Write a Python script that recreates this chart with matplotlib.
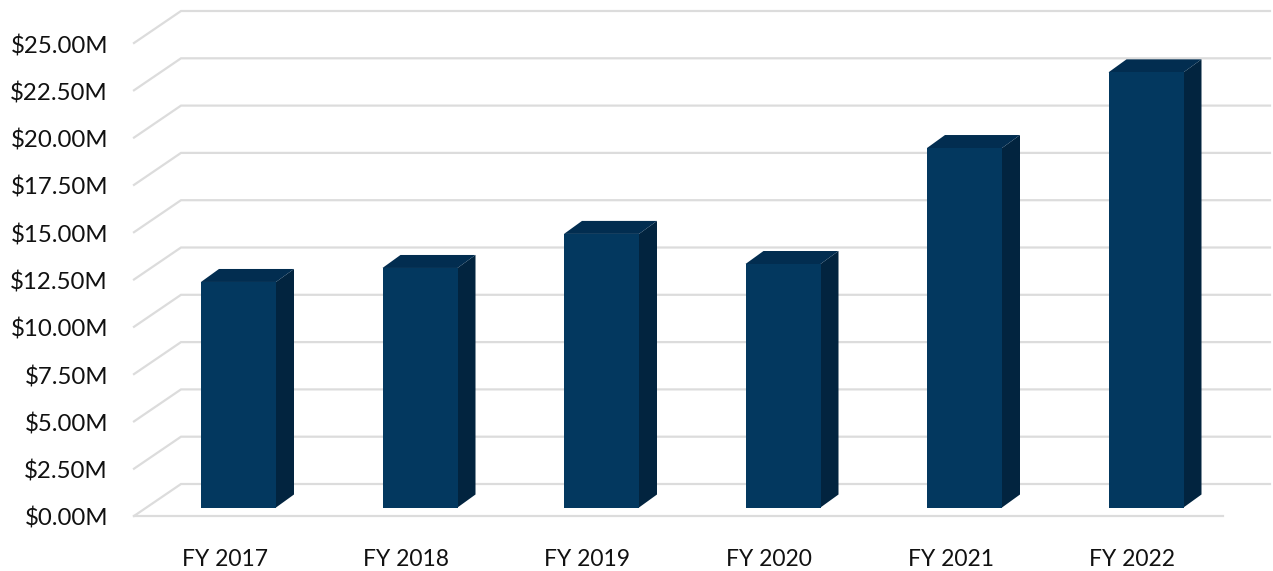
import matplotlib
matplotlib.use("Agg")
import matplotlib.pyplot as plt
from matplotlib.patches import Polygon

plt.rcParams['font.family'] = ['Lato', 'DejaVu Sans']

# Data, $M
years = ["FY 2017", "FY 2018", "FY 2019", "FY 2020", "FY 2021", "FY 2022"]
values = [11.92, 12.66, 14.46, 12.87, 19.0, 23.0]
ticks = [0, 2.5, 5, 7.5, 10, 12.5, 15, 17.5, 20, 22.5, 25]

# Pixel scale of the picture
W, H = 1273, 571
px_x = 181.5      # px per category
px_y = 18.92      # px per $M
x0_px = 238.5     # centre of first bar
y0_px = 516       # front zero line

fig = plt.figure(figsize=(W / 100, H / 100), dpi=100)
ax = fig.add_axes([0, 0, 1, 1])
ax.set_xlim(-x0_px / px_x, (W - x0_px) / px_x)
ax.set_ylim(-(H - y0_px) / px_y, y0_px / px_y)
ax.axis("off")

# Fake 3D offsets in data units
wall_dx, wall_dy = 47 / px_x, 32 / px_y
bar_dx, bar_dy = 18 / px_x, 13 / px_y
bar_w = 75 / px_x
bar_lift = 8.5 / px_y
left = (134 - x0_px) / px_x
right = (1223 - x0_px) / px_x

# Gridlines: left wall slant + back wall
grid = "#dcdcdc"
for t in ticks:
    ax.plot([left, left + wall_dx, right + wall_dx], [t, t + wall_dy, t + wall_dy],
            color=grid, lw=1.6, solid_joinstyle="miter", zorder=1)
ax.plot([left, right], [0, 0], color=grid, lw=1.6, zorder=1)

# Bars
for i, v in enumerate(values):
    l, r = i - bar_w / 2, i + bar_w / 2
    b, t = bar_lift, bar_lift + v
    ax.add_patch(Polygon([(r, b), (r + bar_dx, b + bar_dy), (r + bar_dx, t + bar_dy), (r, t)],
                         fc="#02243f", ec="none", zorder=2))
    ax.add_patch(Polygon([(l, t), (l + bar_dx, t + bar_dy), (r + bar_dx, t + bar_dy), (r, t)],
                         fc="#022d50", ec="none", zorder=2))
    ax.add_patch(Polygon([(l, b), (r, b), (r, t), (l, t)],
                         fc="#03385f", ec="none", zorder=3))
    ax.text(i - 14 / px_x, -43 / px_y, years[i], ha="center", va="center", fontsize=16.5, color="#111111")

# y tick labels
for t in ticks:
    ax.text(left - 26 / px_x, t - 3 / px_y, f"${t:.2f}M", ha="right", va="center", fontsize=17.3, color="#111111")

fig.savefig("out.png", dpi=100)
